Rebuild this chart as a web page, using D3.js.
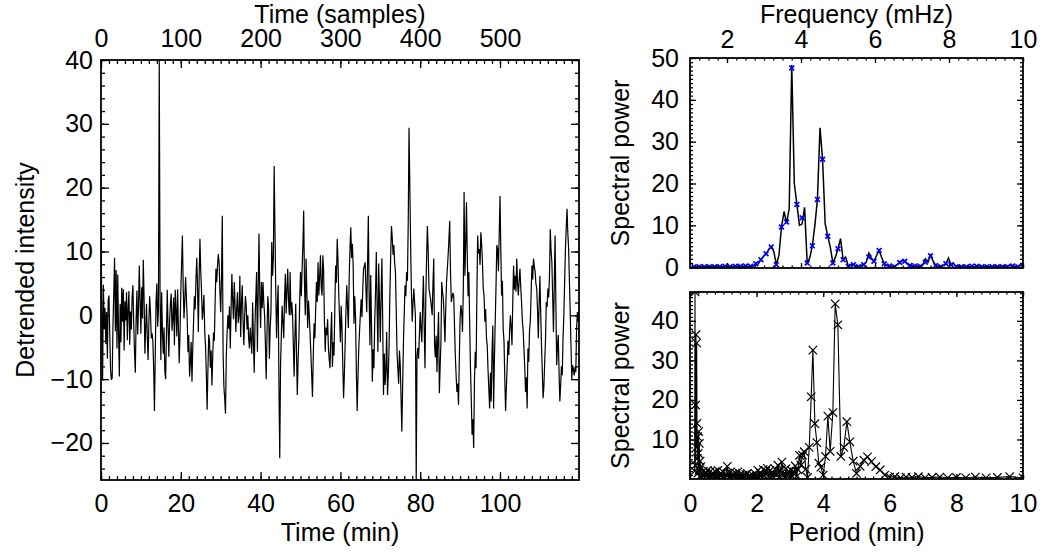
<!DOCTYPE html>
<html>
<head>
<meta charset="utf-8">
<script src="https://cdn.jsdelivr.net/npm/d3@7"></script>
<style>
  body { margin: 0; background: #fff; }
  svg text { font-family: "Liberation Sans", Arial, Helvetica, sans-serif; fill: #000; }
</style>
</head>
<body>
<svg id="chart" width="1051" height="552"></svg>
<script>
// ---------------------------------------------------------------
// Detrended intensity, 600 samples, one sample every 0.2 min
// ---------------------------------------------------------------
const intensity = [
  13.3, 1.5, -10, 4.8, -2, 1.2, -4.5, 0.5, -6.8, 2.4,
  3.1, -3.2, -8.6, -10.1, -9.8, -1.5, 3.5, 9.0, -2.5, 7.1,
  -5.2, 6.4, -3.1, -9.6, 1.8, -4.2, 4.3, -1.0, 4.1, -5.5,
  2.2, -0.8, 3.6, -3.9, 1.1, 3.8, -4.6, 0.6, -2.2, 2.9,
  4.7, -1.4, -5.8, -9.0, -0.6, 3.9, -3.0, 1.5, 7.8, 2.1,
  -2.9, 4.4, -0.5, 8.7, 2.6, -6.0, -2.1, 1.8, -3.4, -7.0,
  -1.2, 3.0, 0.4, -3.6, -2.8, -4.1, -8.3, -15.0, -6.1, 2.2,
  5.0, -1.8, 0.9, 40.0, 3.6, -7.0, 3.6, -2.5, -6.0, -1.9,
  -8.7, -10.0, -3.2, 4.0, -1.5, -6.5, -0.8, 1.9, 3.4, -2.4,
  -0.5, 2.8, -4.7, 4.0, 0.8, -3.3, 4.1, -2.0, -7.5, -3.0,
  3.6, 8.1, 12.5, 4.4, -0.5, 2.3, 6.0, 2.7, -0.5, -5.8,
  -3.1, -9.6, -7.4, -4.2, -10.4, -5.0, -1.1, 3.0, 0.9, 5.6,
  9.0, 4.2, -2.6, 6.1, 12.0, 7.0, 3.6, -0.7, 1.0, 3.2,
  -2.6, -4.8, -9.1, -14.8, -8.5, -3.0, -4.0, -8.2, -5.5, -11.0,
  -6.4, -2.7, -4.0, 1.8, 7.3, 5.2, 7.8, 9.6, 8.3, 3.7,
  0.5, 6.0, 15.6, -6.0, -11.2, -13.0, -15.4, -6.4, -2.8, 0.0,
  -2.1, 1.4, -5.2, 0.8, 6.5, 2.4, -0.6, 5.2, 1.7, -2.6,
  0.9, 3.6, -1.2, 0.0, 6.2, -3.4, 1.8, 4.7, -0.7, -4.7,
  -0.3, 3.0, 1.4, -2.2, 0.0, -3.6, -5.2, -1.9, -4.0, -6.0,
  2.0, -3.8, -9.0, -1.2, 2.9, 6.8, -5.7, 4.1, 12.8, 3.0,
  -2.0, 5.2, 1.1, 5.2, 2.0, 0.0, -4.4, -10.0, -3.1, 3.0,
  1.2, -6.8, -2.0, 0.5, 11.5, 6.2, 9.0, 23.4, 13.3, 4.0,
  -3.6, 1.4, 4.7, -11.0, -22.4, -7.8, -3.0, 1.5, -1.1, -3.6,
  2.7, 6.5, 0.3, 3.9, 7.3, 2.2, 0.0, 6.8, 0.0, 2.1,
  0.3, -4.6, -9.6, -3.3, 1.8, -5.9, -12.5, -7.0, -3.6, 2.2,
  6.8, 3.0, 7.3, 11.0, 16.4, 5.0, 0.0, 8.9, 3.5, -2.0,
  2.3, 0.0, -2.9, -6.0, -9.3, -12.8, -6.5, -1.3, -3.6, 0.8,
  5.2, 2.1, 8.3, 3.1, 6.0, 9.4, 4.4, 3.1, 9.4, 6.8,
  -1.0, -5.7, -1.9, -3.1, -0.6, -5.2, -6.9, -8.3, -3.0, 0.5,
  -8.1, -4.2, -6.3, 1.0, 7.8, 5.1, 12.0, 8.6, 3.1, -0.6,
  -4.2, 1.5, -2.0, -7.8, -13.0, -9.1, -4.2, 0.8, 4.7, 1.1,
  -2.0, 5.9, 10.4, 13.8, 9.0, 11.2, 7.8, -1.3, 3.0, -0.5,
  -8.7, -15.0, -9.8, -5.2, -2.4, 0.0, 2.5, -0.3, 4.0, 7.3,
  7.7, 8.3, 4.1, 0.5, 7.9, 15.6, 3.2, -4.7, 6.3, -1.5,
  -10.4, -5.3, -8.3, -1.0, 3.6, 9.9, 1.2, -5.7, 8.1, 2.1,
  -4.2, 3.0, 8.9, -0.8, -12.5, -6.0, -10.9, -8.4, -2.6, -12.5,
  -9.6, -4.7, 3.4, 9.2, 14.0, 12.1, 9.5, 11.0, 8.2, 6.8,
  0.6, -6.0, -8.4, -10.7, -5.5, -7.8, -12.9, -18.2, -11.0, -4.2,
  0.3, 4.7, 3.0, 6.8, 5.4, 14.6, 29.4, 20.2, 10.9, 3.6,
  -1.0, 1.8, 4.2, 2.0, 0.0, -25.8, -6.5, -5.1, -6.8, -3.0,
  0.5, -2.1, -4.2, 1.4, 6.2, -1.7, -8.3, 2.7, 8.9, 14.0,
  10.1, 4.2, 3.3, 2.6, 1.4, 0.0, 5.1, 8.9, -4.7, -6.6,
  -3.2, -8.9, -3.7, 0.5, -12.2, -8.0, -4.2, 5.2, 3.7, 2.6,
  -0.5, -4.2, 1.0, 5.2, 7.3, 9.4, 12.0, 14.8, 6.5, 2.1,
  2.8, 3.5, 3.1, -1.7, -6.3, -9.4, -12.0, -10.7, -14.0, -7.0,
  -0.5, 1.6, 0.5, -2.6, 4.0, 19.3, 6.2, 11.0, 17.7, 9.1,
  3.0, 6.8, -1.4, -8.3, -13.1, -18.7, -16.3, -20.8, -10.2, -5.7,
  -8.3, 2.8, 12.5, 9.7, 10.4, 7.9, 13.0, 11.2, 8.3, 4.2,
  3.1, -1.0, 1.0, -3.5, -4.7, -8.6, -11.5, -14.6, -9.0, -13.5,
  -5.8, -1.6, -14.6, -7.0, -1.0, 4.4, 11.0, 10.4, 6.9, 12.5,
  18.7, 10.5, 3.1, 5.4, -2.1, -4.0, -9.8, -15.0, -11.4, -7.8,
  -4.0, -6.2, -2.6, 0.0, -1.8, -4.7, 2.1, 7.8, 4.0, 6.2,
  3.7, 8.9, 5.0, 3.1, 5.5, 7.3, 4.4, 2.1, -0.9, -2.3,
  -5.2, -8.1, -12.0, -9.7, -14.6, -5.2, -7.3, -2.4, -1.0, 3.5,
  7.8, 5.6, 8.9, 7.7, 6.8, 5.0, 4.2, 1.0, -3.6, 1.6,
  6.2, 0.4, -4.7, -8.8, -13.0, -11.2, -7.3, -4.0, 2.1, 1.3,
  4.2, 2.8, 6.1, 13.5, 10.2, 8.3, 3.0, -2.6, 4.6, 12.5,
  2.2, -7.8, -4.9, -3.1, -8.9, -13.5, -11.0, -8.0, -9.4, -3.6,
  0.0, 5.2, 10.4, 13.7, 16.7, 12.9, 10.4, 5.3, 0.5, -5.0,
  -10.0, -7.8, -8.5, -9.4, -8.1, -8.9, -2.0, 0.5, -1.0, 0.0
];
const minutesPerSample = 0.2;

// ---------------------------------------------------------------
// Power spectrum against frequency (mHz)
// ---------------------------------------------------------------
// finely sampled spectrum (black curve)
const fineFreq = [
  1.042, 1.111, 1.181, 1.25, 1.319, 1.389, 1.458, 1.528, 1.597, 1.667,
  1.736, 1.806, 1.875, 1.944, 2.014, 2.083, 2.153, 2.222, 2.292, 2.361,
  2.431, 2.5, 2.569, 2.639, 2.708, 2.778, 2.847, 2.917, 2.986, 3.056,
  3.125, 3.194, 3.264, 3.333, 3.403, 3.472, 3.542, 3.611, 3.681, 3.75,
  3.819, 3.889, 3.958, 4.028, 4.097, 4.167, 4.236, 4.306, 4.375, 4.444,
  4.514, 4.583, 4.653, 4.722, 4.792, 4.861, 4.931, 5.0, 5.069, 5.139,
  5.208, 5.278, 5.347, 5.417, 5.486, 5.556, 5.625, 5.694, 5.764, 5.833,
  5.903, 5.972, 6.042, 6.111, 6.181, 6.25, 6.319, 6.389, 6.458, 6.528,
  6.597, 6.667, 6.736, 6.806, 6.875, 6.944, 7.014, 7.083, 7.153, 7.222,
  7.292, 7.361, 7.431, 7.5, 7.569, 7.639, 7.708, 7.778, 7.847, 7.917,
  7.986, 8.056, 8.125, 8.194, 8.264, 8.333, 8.403, 8.472, 8.542, 8.611,
  8.681, 8.75, 8.819, 8.889, 8.958, 9.028, 9.097, 9.167, 9.236, 9.306,
  9.375, 9.444, 9.514, 9.583, 9.653, 9.722, 9.792, 9.861, 9.931, 10.0
];
const finePower = [
  0.1, 0.1, 0.1, 0.1, 0.1, 0.1, 0.1, 0.1, 0.1, 0.1,
  0.2, 0.1, 0.1, 0.2, 0.1, 0.2, 0.1, 0.2, 0.2, 0.3,
  0.2, 0.3, 0.2, 0.2, 0.3, 0.4, 0.8, 1.8, 2.6, 3.2,
  4.2, 4.9, 3.8, 0.6, 2.8, 9.6, 13.3, 10.5, 14.0, 48.3,
  20.0, 15.0, 10.0, 10.3, 14.3, 1.0, 2.2, 5.1, 10.0, 16.2,
  33.3, 25.8, 10.4, 7.4, 4.8, 1.0, 2.4, 4.4, 6.8, 1.8,
  2.4, 0.2, 0.5, 0.6, 0.3, 0.1, 0.4, 0.6, 1.2, 3.4,
  2.2, 1.4, 2.8, 4.0, 2.3, 0.8, 0.4, 0.3, 0.2, 0.1,
  0.6, 1.1, 1.6, 1.4, 0.7, 0.4, 0.3, 0.3, 0.2, 0.2,
  0.5, 2.0, 1.2, 2.8, 1.5, 0.4, 0.2, 0.1, 0.4, 0.8,
  2.2, 0.6, 0.9, 0.1, 0.2, 0.1, 0.2, 0.1, 0.1, 0.2,
  0.1, 0.2, 0.3, 0.1, 0.1, 0.2, 0.1, 0.1, 0.2, 0.1,
  0.1, 0.2, 0.1, 0.3, 0.4, 0.2, 0.1, 0.2, 0.4, 0.3
];
// Fourier bins (blue crosses)
const binFreq = [
  1.111, 1.25, 1.389, 1.528, 1.667, 1.806, 1.944, 2.083, 2.222, 2.361,
  2.5, 2.639, 2.778, 2.917, 3.056, 3.194, 3.333, 3.472, 3.611, 3.75,
  3.889, 4.028, 4.167, 4.306, 4.444, 4.583, 4.722, 4.861, 5.0, 5.139,
  5.278, 5.417, 5.556, 5.694, 5.833, 5.972, 6.111, 6.25, 6.389, 6.528,
  6.667, 6.806, 6.944, 7.083, 7.222, 7.361, 7.5, 7.639, 7.778, 7.917,
  8.056, 8.194, 8.333, 8.472, 8.611, 8.75, 8.889, 9.028, 9.167, 9.306,
  9.444, 9.583, 9.722, 9.861, 10.0
];
const binPower = [
  0.1, 0.1, 0.1, 0.1, 0.1, 0.1, 0.2, 0.1, 0.2, 0.2,
  0.3, 0.2, 0.8, 1.8, 3.2, 4.8, 0.6, 9.6, 10.8, 47.6,
  15.0, 11.8, 1.0, 5.1, 16.2, 25.8, 7.4, 1.0, 4.4, 1.8,
  0.2, 0.6, 0.1, 0.6, 2.4, 1.4, 4.0, 0.8, 0.3, 0.1,
  1.1, 1.4, 0.4, 0.3, 0.2, 1.2, 2.7, 0.4, 0.1, 0.8,
  0.6, 0.1, 0.1, 0.1, 0.2, 0.2, 0.1, 0.1, 0.1, 0.1,
  0.1, 0.1, 0.3, 0.1, 0.2
];

// ---------------------------------------------------------------
// Power spectrum against period (min)
// ---------------------------------------------------------------
const period = [
  0.14, 0.15, 0.16, 0.17, 0.18, 0.19, 0.20, 0.21, 0.22, 0.23,
  0.24, 0.25, 0.26, 0.27, 0.28, 0.29, 0.30,
  0.32, 0.36, 0.40, 0.44, 0.48, 0.52, 0.56, 0.60, 0.64, 0.68,
  0.72, 0.76, 0.80, 0.84, 0.88, 0.92, 0.96, 1.00, 1.04, 1.08,
  1.12, 1.16, 1.20, 1.24, 1.28, 1.32, 1.36, 1.40, 1.44, 1.48,
  1.52, 1.56, 1.60, 1.64, 1.68, 1.72, 1.76, 1.80, 1.84, 1.88,
  1.92, 1.96, 2.00, 2.04, 2.08, 2.12, 2.16, 2.20, 2.24, 2.28,
  2.32, 2.36, 2.40, 2.44, 2.48, 2.52, 2.56, 2.60, 2.64, 2.68,
  2.72, 2.76, 2.80, 2.84, 2.88, 2.92, 2.96, 3.00, 3.04, 3.08,
  3.12, 3.16, 3.20, 3.24,
  3.29, 3.33, 3.38, 3.43, 3.48, 3.53, 3.58, 3.64, 3.69, 3.75,
  3.81, 3.87, 3.93, 4.00, 4.07, 4.14, 4.21, 4.29, 4.36, 4.44,
  4.53, 4.62, 4.71, 4.80, 4.90, 5.00, 5.11, 5.22, 5.33, 5.45,
  5.58, 5.71, 5.85, 6.00, 6.15, 6.32, 6.49, 6.67, 6.86, 7.06,
  7.27, 7.50, 7.74, 8.00, 8.28, 8.57, 8.89, 9.23, 9.60, 10.0
];
const periodPower = [
  2.0, 47.3, 3.5, 18.7, 36.5, 8.0, 34.4, 14.1, 5.2, 10.7,
  1.5, 6.5, 12.0, 2.2, 9.0, 0.6, 4.5,
  3.1, 0.4, 2.0, 0.3, 1.6, 2.2, 0.2, 1.8, 0.5, 1.5,
  0.2, 1.9, 0.6, 2.2, 0.3, 1.4, 0.4, 1.7, 0.2, 1.2,
  3.2, 0.5, 1.6, 0.3, 1.3, 0.6, 1.5, 0.2, 1.8, 0.4,
  1.2, 0.3, 1.0, 0.5, 1.1, 1.4, 0.2, 0.9, 0.4, 1.0,
  0.2, 1.3, 0.6, 2.2, 0.3, 1.5, 0.4, 2.4, 0.8, 2.0,
  2.7, 0.5, 2.1, 0.3, 1.6, 0.4, 2.5, 1.0, 3.5, 0.6,
  2.2, 4.3, 1.2, 0.4, 2.6, 0.8, 1.9, 0.2, 2.2, 0.7,
  1.8, 3.3, 0.6, 2.4,
  6.0, 3.5, 6.0, 6.9, 2.5, 0.4, 8.0, 20.8, 32.6, 14.0,
  9.2, 4.0, 3.0, 1.0, 5.7, 15.9, 7.0, 16.8, 44.3, 39.0,
  5.7, 8.0, 14.5, 9.4, 4.5, 1.4, 3.2, 4.8, 5.6, 4.4,
  3.1, 2.3, 1.0, 0.5, 0.6, 0.3, 0.5, 0.4, 0.6, 0.3,
  0.4, 0.5, 0.3, 0.4, 0.3, 0.5, 0.3, 0.4, 0.6, 0.3
];

// tick values
const timeTicks = [0, 20, 40, 60, 80, 100];
const sampleTicks = [0, 100, 200, 300, 400, 500];
const intensityTicks = [-20, -10, 0, 10, 20, 30, 40];
const freqTicks = [2, 4, 6, 8, 10];
const powerTicksTop = [0, 10, 20, 30, 40, 50];
const periodTicks = [0, 2, 4, 6, 8, 10];
const powerTicksBottom = [10, 20, 30, 40];

// ---------------------------------------------------------------
const svg = d3.select("#chart");
const FONT = 25;

// ticks on one side of a frame, pointing into the plot
function side(g, axisFn, scale, values, len, transform, withLabels, pad, fmt) {
  const a = axisFn(scale).tickValues(values).tickSize(-len).tickPadding(pad)
    .tickFormat(withLabels ? (fmt || d3.format("")) : "");
  const s = g.append("g").attr("transform", transform).call(a);
  s.select(".domain").remove();
  s.selectAll(".tick line").attr("stroke", "#000").attr("stroke-width", 1.3);
  s.attr("font-family", null).attr("font-size", null);
  s.selectAll("text").style("font-size", FONT + "px");
  return s;
}

function rangeStep(a, b, step) {
  const out = [];
  for (let v = a; v <= b + 1e-9; v += step) out.push(+v.toFixed(6));
  return out;
}

function box(g, x, y) {
  const [x0, x1] = x.range(), [y1, y0] = y.range();
  g.append("rect").attr("x", x0).attr("y", y0)
    .attr("width", x1 - x0).attr("height", y1 - y0)
    .attr("fill", "none").attr("stroke", "#000").attr("stroke-width", 1.8);
}

function clip(id, x, y) {
  const [x0, x1] = x.range(), [y1, y0] = y.range();
  svg.append("clipPath").attr("id", id).append("rect")
    .attr("x", x0).attr("y", y0).attr("width", x1 - x0).attr("height", y1 - y0);
}

// ---------------- left panel: light curve ----------------
{
  const L = 101, R = 579, T = 60, B = 480;
  const xSamp = d3.scaleLinear([0, intensity.length - 1], [L, R]);
  const xMin = d3.scaleLinear([0, (intensity.length - 1) * minutesPerSample], [L, R]);
  const y = d3.scaleLinear([d3.min(intensity), d3.max(intensity)], [B, T]);
  const g = svg.append("g");
  clip("clipL", xSamp, y);

  g.append("path").datum(intensity)
    .attr("clip-path", "url(#clipL)")
    .attr("fill", "none").attr("stroke", "#000").attr("stroke-width", 1.2)
    .attr("stroke-linejoin", "miter")
    .attr("d", d3.line().x((d, i) => xSamp(i)).y(d => y(d)));

  // bottom: minutes
  side(g, d3.axisBottom, xMin, rangeStep(0, 118, 2), 4, `translate(0,${B})`, false, 0);
  side(g, d3.axisBottom, xMin, timeTicks, 8, `translate(0,${B})`, true, 14);
  // top: samples
  side(g, d3.axisTop, xSamp, rangeStep(0, 590, 10), 4, `translate(0,${T})`, false, 0);
  side(g, d3.axisTop, xSamp, sampleTicks, 8, `translate(0,${T})`, true, 13);
  // left / right
  side(g, d3.axisLeft, y, rangeStep(-24, 40, 2), 4, `translate(${L},0)`, false, 0);
  side(g, d3.axisLeft, y, intensityTicks, 8, `translate(${L},0)`, true, 8, d3.format(""));
  side(g, d3.axisRight, y, rangeStep(-24, 40, 2), 4, `translate(${R},0)`, false, 0);
  side(g, d3.axisRight, y, intensityTicks, 8, `translate(${R},0)`, false, 0);
  box(g, xSamp, y);

  g.append("text").attr("x", (L + R) / 2).attr("y", 541)
    .attr("text-anchor", "middle").style("font-size", FONT + "px").text("Time (min)");
  g.append("text").attr("x", (L + R) / 2).attr("y", 23)
    .attr("text-anchor", "middle").style("font-size", FONT + "px").text("Time (samples)");
  g.append("text").attr("transform", `translate(34,${(T + B) / 2}) rotate(-90)`)
    .attr("text-anchor", "middle").style("font-size", FONT + "px").text("Detrended intensity");
}

// ---------------- top right: spectrum vs frequency ----------------
{
  const L = 690, R = 1023, T = 58, B = 268;
  const x = d3.scaleLinear([1, 10], [L, R]);
  const y = d3.scaleLinear([-0.2, 50], [B, T]);
  const g = svg.append("g");
  clip("clipF", x, y);

  g.append("path").datum(fineFreq.map((f, i) => [f, finePower[i]]))
    .attr("clip-path", "url(#clipF)")
    .attr("fill", "none").attr("stroke", "#000").attr("stroke-width", 1.5)
    .attr("d", d3.line().x(d => x(d[0])).y(d => y(d[1])));

  const s = 2.4;
  g.append("g").attr("clip-path", "url(#clipF)")
    .selectAll("path").data(binFreq.map((f, i) => [f, binPower[i]])).join("path")
    .attr("transform", d => `translate(${x(d[0])},${y(d[1])})`)
    .attr("d", `M${-s},${-s}L${s},${s}M${-s},${s}L${s},${-s}`)
    .attr("stroke", "#0000ff").attr("stroke-width", 1.7).attr("fill", "none");

  const minorX = rangeStep(1.25, 10, 0.25);
  side(g, d3.axisTop, x, minorX, 2.5, `translate(0,${T})`, false, 0);
  side(g, d3.axisTop, x, freqTicks, 5, `translate(0,${T})`, true, 10);
  side(g, d3.axisBottom, x, minorX, 2.5, `translate(0,${B})`, false, 0);
  side(g, d3.axisBottom, x, freqTicks, 5, `translate(0,${B})`, false, 0);
  const minorY = rangeStep(0, 50, 1);
  side(g, d3.axisLeft, y, minorY, 3, `translate(${L},0)`, false, 0);
  side(g, d3.axisLeft, y, powerTicksTop, 6, `translate(${L},0)`, true, 11);
  side(g, d3.axisRight, y, minorY, 3, `translate(${R},0)`, false, 0);
  side(g, d3.axisRight, y, powerTicksTop, 6, `translate(${R},0)`, false, 0);
  box(g, x, y);

  g.append("text").attr("x", (L + R) / 2).attr("y", 23)
    .attr("text-anchor", "middle").style("font-size", FONT + "px").text("Frequency (mHz)");
  g.append("text").attr("transform", `translate(629,${(T + B) / 2}) rotate(-90)`)
    .attr("text-anchor", "middle").style("font-size", FONT + "px").text("Spectral power");
}

// ---------------- bottom right: spectrum vs period ----------------
{
  const L = 690, R = 1023, T = 292, B = 479;
  const x = d3.scaleLinear([0, 10], [L, R]);
  const y = d3.scaleLinear([0, d3.max(periodPower)], [B, T]);
  const g = svg.append("g");
  clip("clipP", x, y);
  const pts = period.map((p, i) => [p, periodPower[i]]);

  g.append("path").datum(pts)
    .attr("clip-path", "url(#clipP)")
    .attr("fill", "none").attr("stroke", "#000").attr("stroke-width", 1.1)
    .attr("d", d3.line().x(d => x(d[0])).y(d => y(d[1])));

  const s = 4.2;
  g.append("g").attr("clip-path", "url(#clipP)")
    .selectAll("path").data(pts).join("path")
    .attr("transform", d => `translate(${x(d[0])},${y(d[1])})`)
    .attr("d", `M${-s},${-s}L${s},${s}M${-s},${s}L${s},${-s}`)
    .attr("stroke", "#000").attr("stroke-width", 1.2).attr("fill", "none");

  const minorX = rangeStep(0, 10, 0.25);
  side(g, d3.axisBottom, x, minorX, 2.5, `translate(0,${B})`, false, 0);
  side(g, d3.axisBottom, x, periodTicks, 5, `translate(0,${B})`, true, 15);
  side(g, d3.axisTop, x, minorX, 2.5, `translate(0,${T})`, false, 0);
  side(g, d3.axisTop, x, periodTicks, 5, `translate(0,${T})`, false, 0);
  const minorY = rangeStep(1, 47, 1);
  side(g, d3.axisLeft, y, minorY, 3, `translate(${L},0)`, false, 0);
  side(g, d3.axisLeft, y, powerTicksBottom, 6, `translate(${L},0)`, true, 11);
  side(g, d3.axisRight, y, minorY, 3, `translate(${R},0)`, false, 0);
  side(g, d3.axisRight, y, powerTicksBottom, 6, `translate(${R},0)`, false, 0);
  box(g, x, y);

  g.append("text").attr("x", (L + R) / 2).attr("y", 541)
    .attr("text-anchor", "middle").style("font-size", FONT + "px").text("Period (min)");
  g.append("text").attr("transform", `translate(629,${(T + B) / 2}) rotate(-90)`)
    .attr("text-anchor", "middle").style("font-size", FONT + "px").text("Spectral power");
}
</script>
</body>
</html>
